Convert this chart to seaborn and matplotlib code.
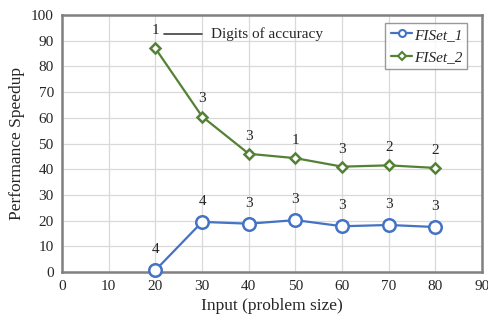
import matplotlib
matplotlib.use('Agg')
import matplotlib.pyplot as plt
import seaborn as sns
import pandas as pd
from matplotlib.lines import Line2D

# Datos
input_size = [20, 30, 40, 50, 60, 70, 80]
fiset_1 = [0.7, 19.5, 18.8, 20.2, 17.8, 18.3, 17.5]
fiset_2 = [87.0, 60.5, 46.0, 44.3, 41.0, 41.5, 40.5]
digits_1 = ['4', '4', '3', '3', '3', '3', '3']
digits_2 = ['1', '3', '3', '1', '3', '2', '2']

sns.set_style('white')
plt.rcParams['font.family'] = ['Liberation Serif', 'DejaVu Serif']

df = pd.DataFrame({
    'Input': input_size * 2,
    'Speedup': fiset_1 + fiset_2,
    'Serie': ['FISet_1'] * 7 + ['FISet_2'] * 7,
})

fig = plt.figure(figsize=(4.89, 3.2), dpi=100)
ax = fig.add_axes([0.127, 0.15, 0.859, 0.803])

colores = {'FISet_1': '#4472C4', 'FISet_2': '#548235'}
sns.lineplot(data=df, x='Input', y='Speedup', hue='Serie', style='Serie',
             markers={'FISet_1': 'o', 'FISet_2': 'D'}, dashes=False,
             palette=colores, ax=ax, linewidth=1.6, legend=False)

# marcadores huecos
for line, ms, c in zip(ax.lines, [9, 5], [colores['FISet_1'], colores['FISet_2']]):
    line.set_markerfacecolor('white')
    line.set_markeredgecolor(c)
    line.set_markersize(ms)
    line.set_markeredgewidth(1.8)
    line.set_clip_on(False)
    line.set_zorder(3)

# etiquetas de digitos de precision
for xv, yv, d in zip(input_size, fiset_1, digits_1):
    ax.annotate(d, (xv, yv), xytext=(0, 10), textcoords='offset points',
                ha='center', va='bottom', fontsize=11)
for xv, yv, d in zip(input_size, fiset_2, digits_2):
    ax.annotate(d, (xv, yv), xytext=(0, 8), textcoords='offset points',
                ha='center', va='bottom', fontsize=11)

# nota "Digits of accuracy"
ax.plot([21.8, 30.0], [92.5, 92.5], color='#404040', linewidth=1.2)
ax.text(32.0, 92.5, 'Digits of accuracy', va='center', ha='left', fontsize=11)

ax.set_xlim(0, 90)
ax.set_ylim(0, 100)
ax.set_xticks(range(0, 91, 10))
ax.set_yticks(range(0, 101, 10))
ax.grid(True, color='#d9d9d9', linewidth=0.9)
ax.set_axisbelow(True)
for s in ax.spines.values():
    s.set_color('#808080')
    s.set_linewidth(1.8)
ax.tick_params(axis='both', labelsize=11, length=0, pad=6)
ax.set_xlabel('Input (problem size)', fontsize=12.5, labelpad=3)
ax.set_ylabel('Performance Speedup', fontsize=12.5, labelpad=4)

handles = [
    Line2D([], [], color=colores['FISet_1'], marker='o', markerfacecolor='white',
           markersize=5, markeredgewidth=1.5, linewidth=1.6),
    Line2D([], [], color=colores['FISet_2'], marker='D', markerfacecolor='white',
           markersize=4, markeredgewidth=1.5, linewidth=1.6),
]
leg = ax.legend(handles, ['FISet_1', 'FISet_2'], loc='upper right',
                bbox_to_anchor=(0.965, 0.97), prop={'style': 'italic', 'size': 11},
                frameon=True, fancybox=False, edgecolor='#808080',
                handlelength=1.4, handletextpad=0.1, borderpad=0.35,
                labelspacing=0.55, borderaxespad=0)
leg.get_frame().set_linewidth(1.0)

fig.savefig('out.png', dpi=100)
